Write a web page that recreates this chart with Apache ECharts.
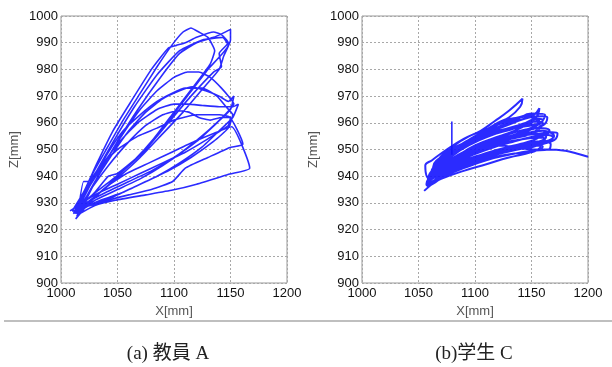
<!DOCTYPE html>
<html><head><meta charset="utf-8">
<script src="https://cdn.jsdelivr.net/npm/echarts@6/dist/echarts.min.js"></script>
<style>html,body{margin:0;padding:0;background:#fff}#c{width:612px;height:367px}</style>
</head><body><div id="c"></div>
<script>
// tick values
const xTicks = [1000, 1050, 1100, 1150, 1200];
const zTicks = [900, 910, 920, 930, 940, 950, 960, 970, 980, 990, 1000];
const xName = 'X[mm]';
const zName = 'Z[mm]';
const captions = ['(a) 教員 A', '(b)学生 C'];

// (a) teacher A trajectory [X, Z]
const teacherPath = [
  [1012,926],[1018,932],[1028,941],[1040,950],[1055,961],[1070,971],[1085,981],[1098,989],[1108,994],[1115,995.5],[1122,994],[1130,992],[1136,987],[1132,982],[1118,974],[1100,964],[1082,954],[1065,946],[1050,940],[1035,934],[1020,929],
  [1014,925],[1022,931],[1035,942],[1050,953],[1068,965],[1088,977],[1105,986],[1120,990],[1135,992],[1143,993.5],[1150,995],[1150,991],[1144,985],[1140,980],[1128,974],[1108,964],[1088,955],[1070,947],[1052,940],[1035,934],[1018,928],
  [1015,928],[1025,936],[1040,946],[1055,956],[1070,965],[1085,972],[1100,977],[1112,979],[1122,979],[1132,977],[1142,973],[1150,969],[1153,967],[1145,963],[1130,957],[1110,950],[1090,944],[1070,939],[1050,935],[1030,931],[1016,927],
  [1010,927],[1020,934],[1032,945],[1046,957],[1062,968],[1080,980],[1095,988],[1102,989],[1110,990],[1120,992],[1135,994],[1142,993],[1148,990],[1140,986],[1142,981],[1135,979],[1115,970],[1095,960],[1075,950],[1055,942],[1040,937],[1025,932],[1012,926],
  [1018,929],[1030,938],[1045,948],[1060,957],[1075,964],[1090,969],[1105,972],[1116,973.5],[1128,972],[1140,970],[1148,968],[1153,970],[1150,965],[1138,960],[1120,953],[1100,947],[1080,942],[1060,938],[1040,934],[1022,930],
  [1012,927],[1022,935],[1036,944],[1052,953],[1068,960],[1085,965],[1100,967],[1112,967],[1125,966.5],[1140,966],[1152,966],[1157,967],[1152,962],[1140,957],[1125,951],[1105,945],[1085,940],[1065,936],[1045,932],[1025,929],[1013,926],
  [1016,928],[1028,936],[1042,944],[1058,952],[1075,959],[1090,963],[1103,964.5],[1113,964],[1122,962],[1132,961],[1142,962],[1149,962],[1161,952],[1149,950.7],[1130,947],[1110,943],[1098.8,938],[1080,935],[1060,933],[1046,931.5],[1030,929.5],[1016.7,927.8],
  [1011,926],[1025,937],[1045,952],[1065,966],[1085,978],[1105,987],[1125,991],[1143,992],[1148,989],[1130,980],[1110,969],[1090,958],[1070,948],[1050,941],[1042,940],[1030,934],[1015,928],
  [1019,931],[1030,940],[1042,949],[1055,957],[1070,963],[1085,968],[1098,971],[1110,973],[1125,973],[1138,970],[1146,966],[1152,963],[1148,958],[1135,953],[1115,947],[1095,942],[1075,938],[1055,934],[1035,931],[1020,928],
  [1013,924],[1025,930],[1040,936],[1058,941],[1078,945],[1098,949],[1118,953],[1135,956],[1151,958.5],[1167,943],[1149.4,940.8],[1120,937],[1098.8,934.8],[1075,933],[1048,931],[1030,929],[1014.7,925.5],
  [1020,938],[1024,938],[1035,944],[1050,950],[1068,955],[1085,958],[1100,961],[1120,963],[1140,963],[1150,962],[1148,959],[1130,954],[1110,949],[1090,945],[1070,941],[1050,937],[1030,933],[1008,927]
];

// (b) student C trajectory [X, Z]
const studentPath = [
  [1055,934.5],[1065,938],[1080,942],[1100,946],[1120,949],[1140,951],[1155,952],[1160,951],[1150,949],[1130,947],[1110,944.5],[1090,942],[1070,939],[1058,936.5],
  [1057,937],[1068,942],[1085,947],[1105,951],[1125,954],[1145,956],[1160,957],[1163,955],[1150,952],[1130,950],[1110,947],[1090,944],[1072,941],[1060,939],
  [1056,944],[1062,946],[1075,950],[1090,954],[1105,957],[1117,960.5],[1130,964.5],[1142,969],[1140,966],[1130,962],[1120,960],[1105,956],[1090,951],[1075,946],[1063,941],
  [1060,940],[1072,946],[1088,951],[1105,955],[1122,958],[1140,961],[1152,963],[1157,965.5],[1154,962],[1140,958],[1122,955],[1105,952],[1088,948],[1072,944],[1061,941],
  [1062,942],[1075,948],[1092,953],[1110,956.5],[1130,959.5],[1148,962],[1160,962.5],[1164,962],[1160,959],[1145,957],[1125,954],[1105,950.5],[1085,946],[1068,942],
  [1065,939],[1080,944],[1100,949],[1120,952.5],[1140,955],[1158,956],[1168,956.5],[1173,956],[1170,953.5],[1158,952],[1140,951],[1120,949.5],[1100,946.5],[1080,943],[1066,940],
  [1059,938],[1075,942.5],[1095,946],[1115,949],[1135,951.5],[1155,953],[1167,952],[1165,950],[1150,949.5],[1130,948],[1110,946],[1090,943],[1070,939.5],[1058,937],
  [1060,941],[1070,945],[1085,950],[1100,953.5],[1118,956.5],[1138,959],[1152,960.5],[1160,960],[1155,957],[1140,955],[1120,952.5],[1100,949],[1082,945],[1066,941.5],
  [1063,943.5],[1078,949],[1095,953],[1112,956],[1130,958],[1148,960],[1157,961],[1152,958],[1135,955.5],[1115,953],[1095,950],[1078,946],[1065,943],
  [1068,941],[1085,946],[1102,950],[1120,953],[1140,955.5],[1160,957],[1170,955],[1162,953],[1145,952],[1125,950.5],[1105,948],[1085,945],[1070,942],
  [1061,939.5],[1078,945],[1096,949.5],[1115,952.5],[1135,955],[1150,956.5],[1157,955],[1148,953],[1130,951],[1110,948.5],[1090,945.5],[1072,942],[1060,939],
  [1066,945.5],[1080,951],[1095,955],[1110,957.5],[1125,960],[1140,962],[1152,963],[1148,960],[1135,958.5],[1118,956.5],[1100,953.5],[1085,950],[1070,946],
  [1058,936],[1072,940.5],[1090,944],[1110,947.5],[1130,950],[1148,951.5],[1158,951],[1150,949],[1135,948.5],[1115,947],[1095,944.5],[1075,941],[1060,937.5],
  [1064,944],[1082,950],[1100,954.5],[1118,958],[1136,961],[1150,963.5],[1162,963],[1158,960],[1142,958.5],[1125,957],[1105,954],[1088,951],[1072,947],
  [1070,947],[1085,951],[1100,955],[1115,958],[1128,961],[1138,962],[1148,963],[1152,961],[1140,959],[1125,957.5],[1105,955],[1088,952],[1074,948.5],
  [1067,943],[1085,948],[1105,952],[1125,955],[1145,957.5],[1160,958],[1166,957],[1160,955],[1145,954],[1125,952.5],[1105,950],[1087,947],[1070,944],
  [1064,940.5],[1080,945],[1098,948],[1118,951],[1138,953.5],[1155,954.5],[1162,954],[1155,951.5],[1138,950],[1118,948],[1098,945.5],[1080,942.5],[1066,940],
  [1069,944.5],[1086,949.5],[1104,953.5],[1122,956.5],[1140,959],[1155,961.5],[1160,961],[1152,958.5],[1136,956.5],[1118,954.5],[1100,951.5],[1084,947.5],[1071,944],
  [1073,942.5],[1090,946.5],[1110,950],[1130,952.5],[1148,954.5],[1163,955.5],[1169,954.5],[1160,952],[1142,951],[1122,949.5],[1102,947],[1085,944],[1070,941.5],
  [1064,942],[1078,947],[1094,951.5],[1112,955],[1132,957.5],[1150,959.5],[1158,959],[1150,956],[1132,954],[1112,951.5],[1093,948.5],[1078,945],[1065,942.5],
  [1062,941],[1080,946],[1100,950],[1120,951.5],[1140,950.5],[1152,950],[1165,950],[1180,949.5],[1190,948.5],[1200,947.3]
];
const studentSpike = [[1079.5,960.5],[1079.5,948]];

const blue = '#1414ff';
const labelFont = 'Liberation Sans, Arial, sans-serif';
const chart = echarts.init(document.getElementById('c'));

function xAxisCfg(i) {
  return {
    type: 'value', gridIndex: i,
    min: xTicks[0], max: xTicks[xTicks.length - 1], interval: xTicks[1] - xTicks[0],
    name: xName, nameLocation: 'middle', nameGap: 21,
    nameTextStyle: { fontFamily: labelFont, fontSize: 13, color: '#555' },
    axisLine: { show: false }, axisTick: { show: false },
    axisLabel: { margin: 4, fontFamily: labelFont, fontSize: 13, color: '#111', showMinLabel: true, showMaxLabel: true, hideOverlap: false,
      formatter: v => String(v) },
    splitLine: { show: true, lineStyle: { type: [2, 2], color: '#a8a8a8', width: 1 } }
  };
}
function yAxisCfg(i, gap) {
  return {
    type: 'value', gridIndex: i,
    min: zTicks[0], max: zTicks[zTicks.length - 1], interval: zTicks[1] - zTicks[0],
    name: zName, nameLocation: 'middle', nameGap: gap, nameRotate: 90,
    nameTextStyle: { fontFamily: labelFont, fontSize: 13, color: '#555' },
    axisLine: { show: false }, axisTick: { show: false },
    axisLabel: { margin: 3, fontFamily: labelFont, fontSize: 13, color: '#111', showMinLabel: true, showMaxLabel: true, hideOverlap: false,
      formatter: v => String(v) },
    splitLine: { show: true, lineStyle: { type: [2, 2], color: '#a8a8a8', width: 1 } }
  };
}

chart.setOption({
  animation: false,
  backgroundColor: '#fff',
  grid: [
    { left: 61, top: 16, width: 226, height: 267, show: true, borderColor: '#999', borderWidth: 1, backgroundColor: 'transparent' },
    { left: 362, top: 16, width: 226, height: 267, show: true, borderColor: '#999', borderWidth: 1, backgroundColor: 'transparent' }
  ],
  xAxis: [xAxisCfg(0), xAxisCfg(1)],
  yAxis: [yAxisCfg(0, 40), yAxisCfg(1, 42)],
  series: [
    { type: 'line', xAxisIndex: 0, yAxisIndex: 0, data: teacherPath, showSymbol: false, smooth: 0.15,
      lineStyle: { color: blue, width: 1.6, opacity: 0.9 } },
    { type: 'line', xAxisIndex: 1, yAxisIndex: 1, data: studentPath, showSymbol: false, smooth: 0.45,
      lineStyle: { color: blue, width: 2, opacity: 0.9 } },
    { type: 'line', xAxisIndex: 1, yAxisIndex: 1, data: studentSpike, showSymbol: false,
      lineStyle: { color: blue, width: 1.6, opacity: 0.9 } }
  ],
  graphic: [
    { type: 'line', shape: { x1: 4, y1: 321, x2: 612, y2: 321 }, style: { stroke: '#aaa', lineWidth: 1.5 } },
    { type: 'text', x: 168, y: 354, style: { text: captions[0], font: '19px "Liberation Serif", "Noto Sans CJK JP", serif', fill: '#222', align: 'center', verticalAlign: 'middle' } },
    { type: 'text', x: 474, y: 354, style: { text: captions[1], font: '19px "Liberation Serif", "Noto Sans CJK JP", serif', fill: '#222', align: 'center', verticalAlign: 'middle' } }
  ]
});
</script>
</body></html>
